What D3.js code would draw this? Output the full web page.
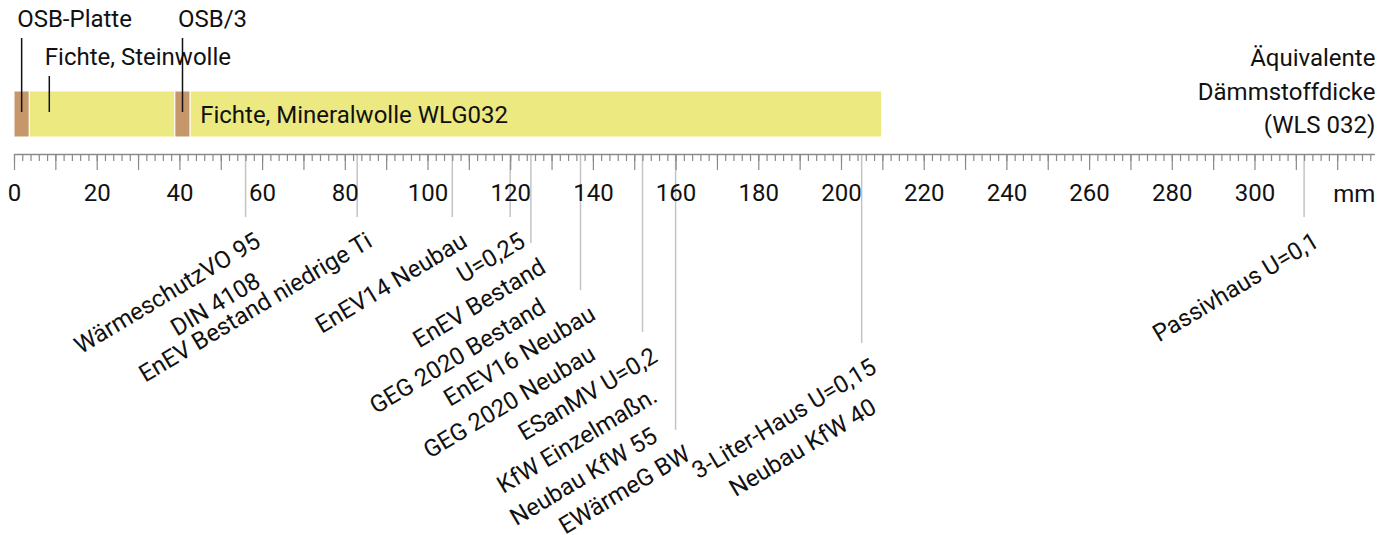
<!DOCTYPE html>
<html><head><meta charset="utf-8">
<script src="https://cdn.jsdelivr.net/npm/d3@7"></script>
<style>
html,body{margin:0;padding:0;background:#fff;}
svg{display:block;font-family:Roboto,"Noto Sans",sans-serif;}
</style></head><body>
<svg id="chart" width="1392" height="535"></svg>
<script>
// ---------- data ----------
const layerNames = ["OSB-Platte", "Fichte, Steinwolle", "OSB/3", "Fichte, Mineralwolle WLG032"];
const layerThickness = [3.7, 35.2, 3.7, 167.2];          // equivalent mm (WLS 032)
const layerMaterial = ["osb", "wool", "osb", "wool"];

const standardValues = [56, 83, 106, 120, 125, 137, 152, 160, 205, 312];
const standardLabels = [
  ["WärmeschutzVO 95", "DIN 4108"],
  ["EnEV Bestand niedrige Ti"],
  ["EnEV14 Neubau"],
  ["U=0,25"],
  ["EnEV Bestand", "GEG 2020 Bestand"],
  ["EnEV16 Neubau", "GEG 2020 Neubau"],
  ["ESanMV U=0,2", "KfW Einzelmaßn.", "Neubau KfW 55"],
  ["EWärmeG BW"],
  ["3-Liter-Haus U=0,15", "Neubau KfW 40"],
  ["Passivhaus U=0,1"]
];

const tickLabels = [0, 20, 40, 60, 80, 100, 120, 140, 160, 180, 200, 220, 240, 260, 280, 300];
const axisUnit = "mm";
const titleLines = ["Äquivalente", "Dämmstoffdicke", "(WLS 032)"];

// ---------- layout ----------
const svg = d3.select("#chart");
const FS = 24;
const x = d3.scaleLinear().domain([0, 329]).range([14, 1374.4]);
const axisY = 154, barTop = 91, barH = 46;
const lineBase = 217;
const labelDrop = [0, 0, 0, 0, 26, 73, 115, 213, 126, 0];   // per-group extra leader length
const calloutLevel = [0, 1, 0, null];
const colors = { osb: "#c6976b", wool: "#ebe980" };
const ANGLE = -31;

// ---------- bar ----------
const starts = d3.cumsum([0, ...layerThickness]).slice(0, layerThickness.length);
const layers = layerNames.map((n, i) => ({ name: n, start: starts[i], w: layerThickness[i], mat: layerMaterial[i], lvl: calloutLevel[i] }));

svg.append("g").selectAll("rect").data(layers).join("rect")
  .attr("x", d => x(d.start))
  .attr("y", barTop)
  .attr("width", d => x(d.start + d.w) - x(d.start))
  .attr("height", barH)
  .attr("fill", d => colors[d.mat])
  .attr("stroke", "#fff").attr("stroke-width", 1);

// callouts
const callouts = layers.filter(d => d.lvl !== null);
const cg = svg.append("g");
callouts.forEach(d => {
  const cx = x(d.start) + Math.min((x(d.start + d.w) - x(d.start)) / 2, 20);
  const baseY = d.lvl === 0 ? 27 : 65;
  cg.append("line").attr("x1", cx).attr("x2", cx)
    .attr("y1", baseY + 11).attr("y2", barTop + 21)
    .attr("stroke", "#111").attr("stroke-width", 1.5);
  cg.append("text").attr("x", cx - 4.5).attr("y", baseY)
    .attr("font-size", FS).attr("fill", "#111").text(d.name);
});
// inside label
layers.filter(d => d.lvl === null).forEach(d => {
  svg.append("text").attr("x", x(d.start) + 10).attr("y", barTop + barH / 2 + 8.5)
    .attr("font-size", FS).attr("fill", "#111").text(d.name);
});

// ---------- reference lines ----------
const rg = svg.append("g");
standardValues.forEach((v, i) => {
  rg.append("line").attr("x1", x(v)).attr("x2", x(v))
    .attr("y1", axisY).attr("y2", lineBase + labelDrop[i])
    .attr("stroke", "#c4c4c4").attr("stroke-width", 1.5);
});

// ---------- axis ----------
const minorAxis = d3.axisBottom(x).tickValues(d3.range(0, 329, 2)).tickSize(7).tickSizeOuter(0).tickFormat("");
const majorAxis = d3.axisBottom(x).tickValues(d3.range(0, 321, 10)).tickSize(16).tickSizeOuter(0).tickFormat("");
const labelAxis = d3.axisBottom(x).tickValues(tickLabels).tickSize(0).tickPadding(30).tickFormat(d3.format("d"));

const ag1 = svg.append("g").attr("transform", `translate(0,${axisY})`).call(minorAxis);
const ag2 = svg.append("g").attr("transform", `translate(0,${axisY})`).call(majorAxis);
const ag3 = svg.append("g").attr("transform", `translate(0,${axisY})`).call(labelAxis);
[ag1, ag2, ag3].forEach(g => {
  g.selectAll("path.domain").attr("stroke", "#8a8a8a").attr("stroke-width", 1.5);
  g.selectAll(".tick line").attr("stroke", "#8a8a8a").attr("stroke-width", 1.2);
});
ag2.select("path.domain").remove();
ag3.select("path.domain").remove();
ag3.selectAll("text").attr("font-size", FS).attr("fill", "#111").attr("font-family", "Roboto,sans-serif");

svg.append("text").attr("x", x(329) + 1).attr("y", 201.5).attr("text-anchor", "end")
  .attr("font-size", FS).attr("fill", "#111").text(axisUnit);

// ---------- title ----------
svg.append("g").selectAll("text").data(titleLines).join("text")
  .attr("x", x(329) + 1).attr("y", (d, i) => 66 + i * 33.5)
  .attr("text-anchor", "end").attr("font-size", FS).attr("fill", "#111").text(d => d);

// ---------- rotated standard labels ----------
const lg = svg.append("g");
standardValues.forEach((v, i) => {
  standardLabels[i].forEach((t, j) => {
    const px = x(v) + 16.5, py = lineBase + labelDrop[i] + 28.5 + j * 40;
    lg.append("text").attr("text-anchor", "end")
      .attr("transform", `translate(${px},${py}) rotate(${ANGLE})`)
      .attr("font-size", FS).attr("fill", "#111").text(t);
  });
});
</script>
</body></html>
